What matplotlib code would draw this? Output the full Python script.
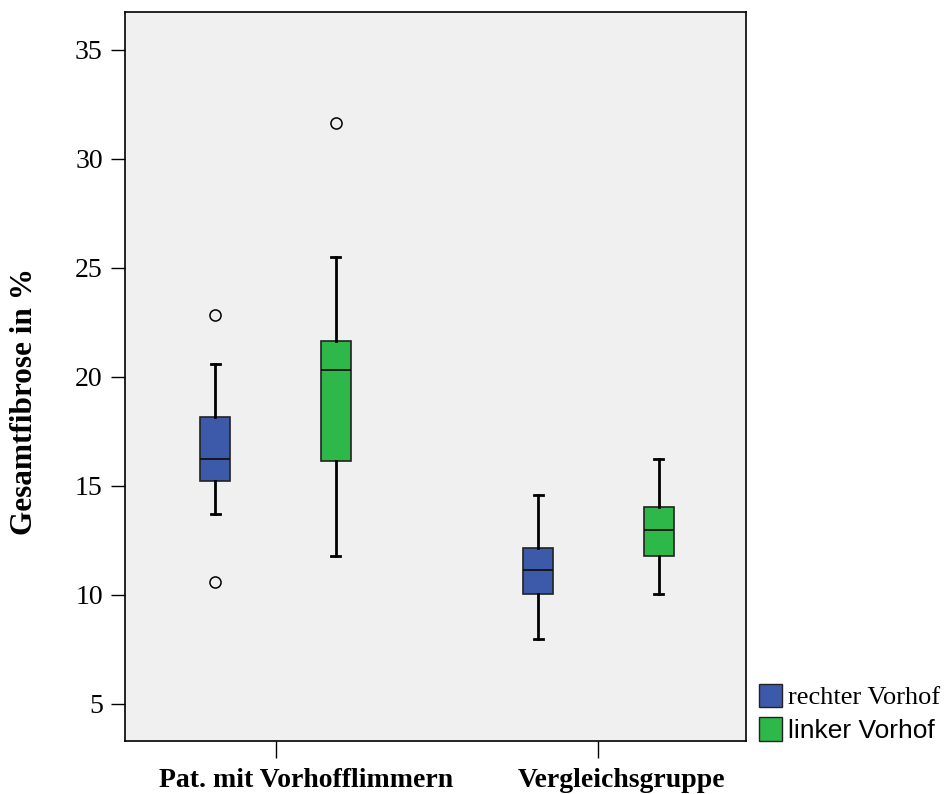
import matplotlib.pyplot as plt
from matplotlib.patches import Patch

groups = ['Pat. mit Vorhofflimmern', 'Vergleichsgruppe']
series = ['rechter Vorhof', 'linker Vorhof']
colors = ['#3D59A9', '#2EB84A']

# per series: one value per group
whislo = [[13.72, 8.0], [11.80, 10.06]]
q1 = [[15.23, 10.05], [16.13, 11.80]]
med = [[16.25, 11.15], [20.31, 12.97]]
q3 = [[18.15, 12.14], [21.64, 14.05]]
whishi = [[20.6, 14.6], [25.5, 16.24]]
fliers = [[[22.86, 10.58], []], [[31.65], []]]

fig = plt.figure(figsize=(9.47, 7.94), dpi=100)
ax = fig.add_axes([0.132, 0.0668, 0.6558, 0.9181])
ax.set_facecolor('#F0F0F0')

offsets = [-0.186, 0.186]
for s in range(2):
    stats = []
    for g in range(2):
        stats.append({'whislo': whislo[s][g], 'q1': q1[s][g], 'med': med[s][g],
                      'q3': q3[s][g], 'whishi': whishi[s][g], 'fliers': fliers[s][g]})
    pos = [g + offsets[s] for g in range(2)]
    bp = ax.bxp(stats, positions=pos, widths=0.093, patch_artist=True,
                showfliers=True,
                boxprops=dict(facecolor=colors[s], edgecolor='#222222', linewidth=1.2),
                medianprops=dict(color='#111111', linewidth=1.3),
                whiskerprops=dict(color='black', linewidth=2),
                capprops=dict(color='black', linewidth=2),
                capwidths=0.028,
                flierprops=dict(marker='o', markerfacecolor='none', markeredgecolor='black',
                                markersize=8, markeredgewidth=1.1))

ax.set_xlim(-0.466, 1.457)
ax.set_ylim(3.3, 36.74)
ax.set_yticks([5, 10, 15, 20, 25, 30, 35])
ax.set_xticks([0, 1])
ax.set_xticklabels([])
# group labels sit a little right of their ticks in the original
for g, (name, dx) in enumerate(zip(groups, [22.3, 16.6])):
    ax.annotate(name, xy=(g, 0), xycoords=('data', 'axes fraction'),
                xytext=(dx, -19.4), textcoords='offset points', ha='center', va='top',
                fontfamily='Liberation Serif', fontweight='bold', fontsize=20,
                annotation_clip=False)
for lab in ax.get_yticklabels():
    lab.set_fontfamily('Liberation Serif')
    lab.set_fontsize(20)
ax.tick_params(axis='y', direction='out', length=10, width=1, pad=6)
ax.tick_params(axis='x', direction='out', length=12, width=1)
ax.set_ylabel('Gesamtfibrose in %', fontfamily='Liberation Serif', fontweight='bold',
              fontsize=22.5)
ax.yaxis.set_label_coords(-0.138, 0.465)
for sp in ax.spines.values():
    sp.set_linewidth(1.2)

handles = [Patch(facecolor=c, edgecolor='#222222', linewidth=1) for c in colors]
leg = fig.legend(handles, series, loc='lower left', bbox_to_anchor=(0.801, 0.064),
                 frameon=False, handlelength=0.9, handleheight=1.0, handletextpad=0.2,
                 labelspacing=0.3, borderpad=0, borderaxespad=0, fontsize=19)
texts = leg.get_texts()
texts[0].set_fontfamily('Liberation Serif')
texts[1].set_fontfamily('Liberation Sans')

fig.savefig('out.png', dpi=100, facecolor='white')
